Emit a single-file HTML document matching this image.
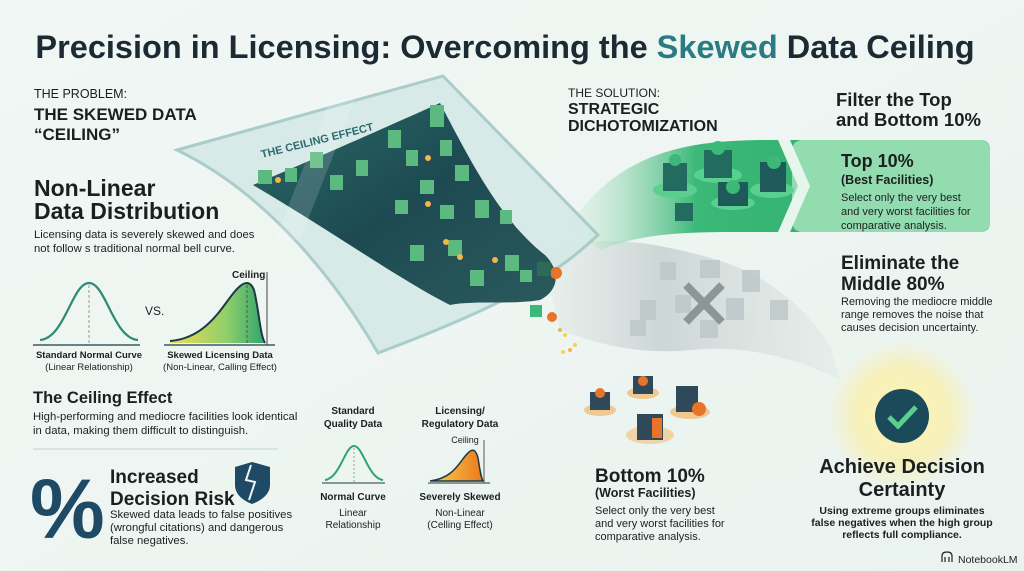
<!DOCTYPE html>
<html><head><meta charset="utf-8"><style>
html,body{margin:0;padding:0;width:1024px;height:571px;overflow:hidden;background:#eef5f2}
svg{display:block}
text{font-family:"Liberation Sans",sans-serif;fill:#1c1f22}
.b{font-weight:bold}
</style></head><body>
<svg width="1024" height="571" viewBox="0 0 1024 571" xmlns="http://www.w3.org/2000/svg">
<defs>
<linearGradient id="bg" x1="0" y1="0" x2="1" y2="1"><stop offset="0" stop-color="#f1f7f4"/><stop offset="1" stop-color="#eaf3ef"/></linearGradient>
<linearGradient id="gr" x1="0" y1="0" x2="1" y2="0"><stop offset="0" stop-color="#d5efe0" stop-opacity="0.3"/><stop offset="0.3" stop-color="#3cb878"/><stop offset="0.7" stop-color="#2fb06e"/><stop offset="1" stop-color="#48c080"/></linearGradient>
<linearGradient id="gy" x1="0" y1="0" x2="1" y2="0"><stop offset="0" stop-color="#d8e0df" stop-opacity="0.2"/><stop offset="0.4" stop-color="#cdd6d6"/><stop offset="1" stop-color="#d9e0df" stop-opacity="0.3"/></linearGradient>
<linearGradient id="sk" x1="0" y1="0" x2="1" y2="0"><stop offset="0" stop-color="#f1dc52"/><stop offset="0.6" stop-color="#8fcf6a"/><stop offset="1" stop-color="#2fa56c"/></linearGradient>
<linearGradient id="sk2" x1="0" y1="0" x2="1" y2="0"><stop offset="0" stop-color="#f6d24e"/><stop offset="1" stop-color="#ec7a1e"/></linearGradient>
<linearGradient id="city" x1="0" y1="0" x2="1" y2="1"><stop offset="0" stop-color="#2a6a66"/><stop offset="0.5" stop-color="#1d4a52"/><stop offset="1" stop-color="#2a5a5c"/></linearGradient>
<radialGradient id="sun" cx="0.5" cy="0.5" r="0.5"><stop offset="0" stop-color="#fff7c0"/><stop offset="0.6" stop-color="#fbeea0" stop-opacity="0.7"/><stop offset="1" stop-color="#fbeea0" stop-opacity="0"/></radialGradient>
</defs>
<rect width="1024" height="571" fill="url(#bg)"/>

<text x="505" y="58" text-anchor="middle" class="b" font-size="32.5" style="fill:#1b2a33">Precision in Licensing: Overcoming the <tspan style="fill:#2a7c82">Skewed</tspan> Data Ceiling</text>

<!-- gray band -->
<path d="M540 250 C600 235 640 240 700 255 C760 270 800 300 830 345 L840 380 C790 355 740 345 690 350 C640 355 600 345 560 330 Z" fill="url(#gy)"/>
<!-- green band -->
<path d="M570 225 C620 150 690 140 770 140 L980 140 Q990 140 990 150 L990 222 Q990 232 980 232 L770 232 C700 232 650 230 600 250 Z" fill="url(#gr)"/>
<rect x="792" y="140" width="198" height="92" rx="10" fill="#93dcb0"/>
<path d="M778 140 L798 186 L778 232 L790 232 L810 186 L790 140 Z" fill="#e6f6ec"/>

<!-- glass ceiling -->
<path d="M177 150 L443 76 L598 235 C560 270 520 300 378 353 C330 270 260 190 177 150 Z" fill="#d3e9e6" opacity="0.85" stroke="#9fc7c4" stroke-width="3"/>
<path d="M253 185 C300 165 380 130 440 103 C470 160 500 220 545 255 C560 270 560 290 540 300 C510 305 475 300 450 305 C400 280 330 230 253 185 Z" fill="url(#city)"/>
<g fill="#5cba80">
<rect x="258" y="170" width="14" height="14"/><rect x="285" y="168" width="12" height="14"/><rect x="310" y="152" width="13" height="16"/><rect x="330" y="175" width="13" height="15"/><rect x="356" y="160" width="12" height="16"/><rect x="388" y="130" width="13" height="18"/><rect x="406" y="150" width="12" height="16"/><rect x="430" y="105" width="14" height="22"/><rect x="420" y="180" width="14" height="14"/><rect x="440" y="140" width="12" height="16"/><rect x="455" y="165" width="14" height="16"/><rect x="395" y="200" width="13" height="14"/><rect x="440" y="205" width="14" height="14"/><rect x="475" y="200" width="14" height="18"/><rect x="500" y="210" width="12" height="14"/><rect x="410" y="245" width="14" height="16"/><rect x="448" y="240" width="14" height="16"/><rect x="470" y="270" width="14" height="16"/><rect x="505" y="255" width="14" height="16"/><rect x="520" y="270" width="12" height="12"/>
</g>
<g fill="#f2b64a"><circle cx="278" cy="180" r="3"/><circle cx="428" cy="158" r="3"/><circle cx="428" cy="204" r="3"/><circle cx="446" cy="242" r="3"/><circle cx="460" cy="257" r="3"/><circle cx="495" cy="260" r="3"/><circle cx="560" cy="330" r="2"/><circle cx="570" cy="350" r="2"/></g>
<path d="M330 100 L355 100 L300 240 L275 240 Z" fill="#ffffff" opacity="0.15"/>
<circle cx="556" cy="273" r="6" fill="#e8742a"/><circle cx="552" cy="317" r="5" fill="#e8742a"/>
<rect x="537" y="262" width="14" height="14" fill="#2e6a5a"/><rect x="530" y="305" width="12" height="12" fill="#3cb878"/>
<text x="262" y="158" font-size="11" class="b" style="fill:#2d6a70" transform="rotate(-14 262 158)">THE CEILING EFFECT</text>

<!-- left problem -->
<text x="34" y="98" font-size="12.5">THE PROBLEM:</text>
<text x="34" y="120" font-size="17" class="b">THE SKEWED DATA</text>
<text x="34" y="140" font-size="17" class="b">“CEILING”</text>
<text x="34" y="196" font-size="23" class="b">Non-Linear</text>
<text x="34" y="219" font-size="23" class="b">Data Distribution</text>
<text x="34" y="238" font-size="11.3">Licensing data is severely skewed and does</text>
<text x="34" y="252" font-size="11.3">not follow s traditional normal bell curve.</text>

<line x1="33" y1="345" x2="140" y2="345" stroke="#1d3a44" stroke-width="1.3"/>
<path d="M40 340 C65 338 72 283 89 283 C106 283 113 338 138 340" fill="none" stroke="#2e8a74" stroke-width="2.2"/>
<line x1="89" y1="285" x2="89" y2="344" stroke="#999" stroke-dasharray="3 2"/>
<text x="145" y="315" font-size="12">VS.</text>
<line x1="164" y1="345" x2="275" y2="345" stroke="#1d3a44" stroke-width="1.3"/>
<path d="M170 341 C210 338 225 300 238 288 C244 282 250 280 254 290 C259 310 260 335 265 343 L170 343 Z" fill="url(#sk)"/>
<path d="M170 341 C210 338 225 300 238 288 C244 282 250 280 254 290 C259 310 260 335 265 343" fill="none" stroke="#1d3a44" stroke-width="2"/>
<line x1="247" y1="285" x2="247" y2="344" stroke="#555" stroke-dasharray="3 2"/>
<line x1="267" y1="272" x2="267" y2="345" stroke="#444"/>
<text x="232" y="278" font-size="10" class="b">Ceiling</text>
<text x="89" y="358" font-size="9.5" class="b" text-anchor="middle">Standard Normal Curve</text>
<text x="89" y="370" font-size="9.5" text-anchor="middle">(Linear Relationship)</text>
<text x="220" y="358" font-size="9.5" class="b" text-anchor="middle">Skewed Licensing Data</text>
<text x="220" y="370" font-size="9.5" text-anchor="middle">(Non-Linear, Calling Effect)</text>

<text x="33" y="403" font-size="16.5" class="b">The Ceiling Effect</text>
<text x="33" y="420" font-size="11.3">High-performing and mediocre facilities look identical</text>
<text x="33" y="434" font-size="11.3">in data, making them difficult to distinguish.</text>
<line x1="33" y1="449" x2="278" y2="449" stroke="#bfd3d2"/>

<text x="30" y="538" font-size="84" class="b" style="fill:#1e4a66">%</text>
<text x="110" y="483" font-size="19" class="b">Increased</text>
<text x="110" y="505" font-size="19" class="b">Decision Risk</text>
<path d="M235 467 L252 462 L270 467 L270 485 C270 495 260 501 252 504 C244 501 235 495 235 485 Z" fill="#1e4a66"/>
<path d="M251 465 L246 480 L255 482 L249 500" fill="none" stroke="#eef5f2" stroke-width="2"/>
<text x="110" y="518" font-size="11.3">Skewed data leads to false positives</text>
<text x="110" y="531" font-size="11.3">(wrongful citations) and dangerous</text>
<text x="110" y="544" font-size="11.3">false negatives.</text>

<!-- middle small curves -->
<text x="353" y="414" font-size="10" class="b" text-anchor="middle">Standard</text>
<text x="353" y="427" font-size="10" class="b" text-anchor="middle">Quality Data</text>
<line x1="322" y1="483" x2="385" y2="483" stroke="#1d3a44"/>
<path d="M325 480 C340 478 345 446 354 446 C363 446 368 478 383 480" fill="none" stroke="#2fa56c" stroke-width="2"/>
<line x1="354" y1="448" x2="354" y2="482" stroke="#999" stroke-dasharray="2 2"/>
<text x="353" y="500" font-size="10" class="b" text-anchor="middle">Normal Curve</text>
<text x="353" y="516" font-size="10" text-anchor="middle">Linear</text>
<text x="353" y="528" font-size="10" text-anchor="middle">Relationship</text>
<text x="460" y="414" font-size="10" class="b" text-anchor="middle">Licensing/</text>
<text x="460" y="427" font-size="10" class="b" text-anchor="middle">Regulatory Data</text>
<text x="465" y="443" font-size="9" text-anchor="middle">Ceiling</text>
<line x1="428" y1="483" x2="490" y2="483" stroke="#1d3a44"/>
<path d="M430 481 C455 478 460 460 468 453 C473 448 476 450 478 458 C480 470 481 478 483 481 Z" fill="url(#sk2)" stroke="#1d3a44" stroke-width="1.5"/>
<line x1="484" y1="440" x2="484" y2="483" stroke="#555"/>
<text x="460" y="500" font-size="10" class="b" text-anchor="middle">Severely Skewed</text>
<text x="460" y="516" font-size="10" text-anchor="middle">Non-Linear</text>
<text x="460" y="528" font-size="10" text-anchor="middle">(Celling Effect)</text>

<!-- solution -->
<text x="568" y="97" font-size="12">THE SOLUTION:</text>
<text x="568" y="114" font-size="16" class="b">STRATEGIC</text>
<text x="568" y="131" font-size="16" class="b">DICHOTOMIZATION</text>

<g>
<ellipse cx="675" cy="190" rx="22" ry="8" fill="#5bd08e"/><rect x="663" y="163" width="24" height="28" fill="#236b5e"/><circle cx="675" cy="160" r="6" fill="#3cb878"/>
<ellipse cx="718" cy="175" rx="24" ry="8" fill="#5bd08e"/><rect x="704" y="150" width="28" height="28" fill="#236b5e"/><circle cx="718" cy="148" r="7" fill="#3cb878"/>
<ellipse cx="772" cy="190" rx="22" ry="8" fill="#5bd08e"/><rect x="760" y="162" width="26" height="30" fill="#1f5a5a"/><circle cx="774" cy="162" r="7" fill="#3cb878"/>
<ellipse cx="733" cy="203" rx="22" ry="7" fill="#5bd08e"/><rect x="718" y="182" width="30" height="24" fill="#1f5a5a"/><circle cx="733" cy="187" r="7" fill="#3cb878"/>
<rect x="675" y="203" width="18" height="18" fill="#236b5e"/>
</g>
<g fill="#c0c9c9" opacity="0.9">
<rect x="660" y="262" width="16" height="18"/><rect x="700" y="260" width="20" height="18"/><rect x="742" y="270" width="18" height="22"/><rect x="640" y="300" width="16" height="20"/><rect x="675" y="295" width="16" height="18"/><rect x="726" y="298" width="18" height="22"/><rect x="770" y="300" width="18" height="20"/><rect x="630" y="320" width="16" height="16"/><rect x="700" y="320" width="18" height="18"/>
</g>
<path d="M686 285 L722 322 M722 285 L686 322" stroke="#7a8585" stroke-width="8" opacity="0.8"/>
<g fill="#f2d64a"><circle cx="565" cy="335" r="2"/><circle cx="575" cy="345" r="2"/><circle cx="563" cy="352" r="2"/></g>

<text x="836" y="106" font-size="18.5" class="b">Filter the Top</text>
<text x="836" y="126" font-size="18.5" class="b">and Bottom 10%</text>
<text x="841" y="167" font-size="18" class="b">Top 10%</text>
<text x="841" y="184" font-size="12.5" class="b">(Best Facilities)</text>
<text x="841" y="201" font-size="11">Select only the very best</text>
<text x="841" y="215" font-size="11">and very worst facilities for</text>
<text x="841" y="229" font-size="11">comparative analysis.</text>
<text x="841" y="269" font-size="19" class="b">Eliminate the</text>
<text x="841" y="290" font-size="19" class="b">Middle 80%</text>
<text x="841" y="305" font-size="11">Removing the mediocre middle</text>
<text x="841" y="318" font-size="11">range removes the noise that</text>
<text x="841" y="331" font-size="11">causes decision uncertainty.</text>

<g>
<ellipse cx="600" cy="410" rx="16" ry="6" fill="#f0c890"/><rect x="590" y="392" width="20" height="18" fill="#30495a"/><circle cx="600" cy="393" r="5" fill="#e8742a"/>
<ellipse cx="643" cy="393" rx="16" ry="6" fill="#f0c890"/><rect x="633" y="376" width="20" height="18" fill="#30495a"/><circle cx="643" cy="381" r="5" fill="#e8742a"/>
<ellipse cx="690" cy="412" rx="20" ry="7" fill="#f0c890"/><rect x="676" y="386" width="22" height="26" fill="#30495a"/><circle cx="699" cy="409" r="7" fill="#e8742a"/>
<ellipse cx="650" cy="435" rx="24" ry="9" fill="#f0d4a8"/><rect x="637" y="414" width="26" height="26" fill="#30495a"/><rect x="652" y="418" width="10" height="20" fill="#e8742a"/>
</g>
<text x="595" y="482" font-size="19" class="b">Bottom 10%</text>
<text x="595" y="497" font-size="12.5" class="b">(Worst Facilities)</text>
<text x="595" y="514" font-size="11">Select only the very best</text>
<text x="595" y="527" font-size="11">and very worst facilities for</text>
<text x="595" y="540" font-size="11">comparative analysis.</text>

<circle cx="902" cy="415" r="75" fill="url(#sun)"/>
<circle cx="902" cy="416" r="27" fill="#1b4a5a"/>
<path d="M889 417 L898 426 L916 407" fill="none" stroke="#5bd08e" stroke-width="5"/>
<text x="902" y="473" font-size="20" class="b" text-anchor="middle">Achieve Decision</text>
<text x="902" y="496" font-size="20" class="b" text-anchor="middle">Certainty</text>
<text x="902" y="514" font-size="10.5" class="b" text-anchor="middle">Using extreme groups eliminates</text>
<text x="902" y="526" font-size="10.5" class="b" text-anchor="middle">false negatives when the high group</text>
<text x="902" y="538" font-size="10.5" class="b" text-anchor="middle">reflects full compliance.</text>
<text x="958" y="563" font-size="10.5">NotebookLM</text>
<path d="M952 562 L952 556 Q952 552 947 552 Q942 552 942 556 L942 562 M945 562 L945 557 M949 562 L949 557" fill="none" stroke="#222" stroke-width="1.2"/>
</svg>
</body></html>
